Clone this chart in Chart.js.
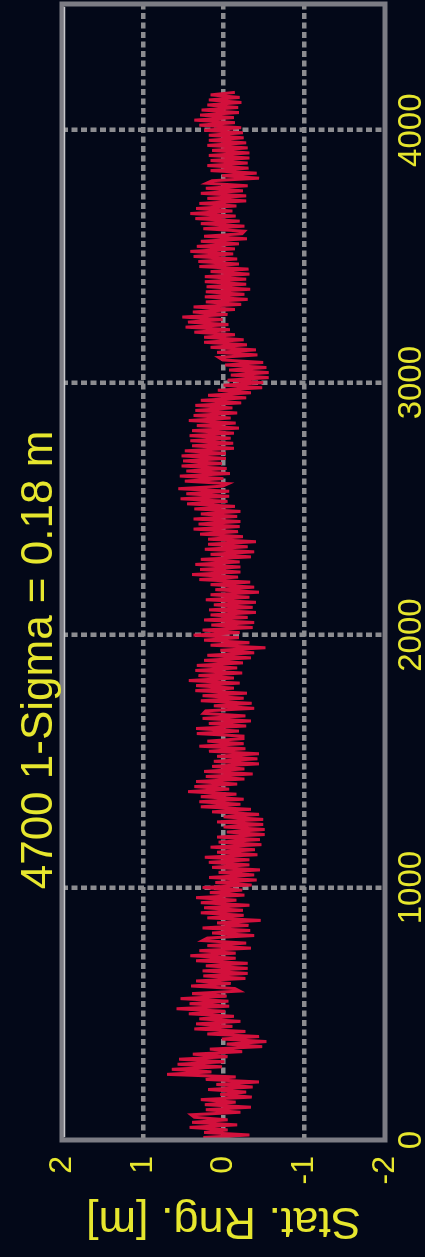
<!DOCTYPE html>
<html lang="en">
<head>
<meta charset="utf-8">
<title>Stat. Rng.</title>
<script src="https://cdn.jsdelivr.net/npm/chart.js"></script>
<style>
  html, body { margin: 0; padding: 0; background: #030818; overflow: hidden; }
  body { width: 425px; height: 1257px; position: relative; }
  /* the plot is laid out landscape and turned a quarter turn */
  #wrap { position: absolute; left: 0; top: 1257px; width: 1257px; height: 425px;
          transform-origin: 0 0; transform: rotate(-90deg); }
</style>
</head>
<body>
<div id="wrap"><canvas id="chart" width="1257" height="425"></canvas></div>
<script>
const titleText = '4700 1-Sigma = 0.18 m';
const axisTitle = 'Stat. Rng. [m]';
const epochTicks = [0, 1000, 2000, 3000, 4000];
const epochMax = 4500;
const rangeMin = -2;
const rangeMax = 2;
const epochStep = 10;

// station range residuals [m], one row per 100 epochs
const rangeResiduals = [
  -0.26, 0.25, -0.32, 0.24, -0.05, 0.42, -0.17, 0.39, -0.05, 0.36,
  0.40, -0.21, 0.22, -0.34, 0.23, -0.15, 0.28, -0.35, 0.04, -0.28,
  0.19, -0.36, 0.09, -0.44, 0.22, -0.15, 0.70, 0.15, 0.64, 0.02,
  0.57, -0.01, 0.55, -0.05, 0.38, -0.23, 0.17, -0.48, -0.04, -0.53,
  0.02, -0.44, 0.20, -0.27, 0.36, -0.11, 0.34, -0.21, 0.30, -0.13,
  0.43, -0.02, 0.58, -0.07, 0.42, -0.06, 0.53, -0.04, 0.39, -0.20,
  -0.14, 0.40, -0.09, 0.34, -0.27, 0.25, -0.30, 0.26, -0.30, 0.22,
  -0.30, 0.34, -0.15, 0.41, -0.15, 0.30, -0.34, 0.20, -0.28, 0.26,
  0.20, -0.38, 0.14, -0.33, 0.26, -0.31, 0.08, -0.46, 0.20, -0.25,
  0.28, -0.24, 0.24, -0.32, 0.28, -0.16, 0.34, -0.26, 0.17, -0.23,
  0.26, -0.35, 0.10, -0.41, 0.18, -0.38, 0.06, -0.45, 0.14, -0.32,
  0.18, -0.32, 0.23, -0.42, 0.08, -0.39, 0.16, -0.47, 0.06, -0.45,
  0.08, -0.51, -0.04, -0.51, 0.00, -0.49, 0.08, -0.49, 0.00, -0.44,
  0.14, -0.34, 0.28, -0.21, 0.30, -0.25, 0.28, -0.16, 0.44, -0.07,
  0.36, -0.17, 0.34, -0.26, 0.22, -0.36, 0.24, -0.26, 0.14, -0.44,
  0.12, -0.42, 0.08, -0.44, 0.18, -0.27, 0.30, -0.25, 0.20, -0.24,
  -0.24, 0.33, -0.19, 0.34, -0.28, 0.18, -0.34, 0.26, -0.27, 0.25,
  0.22, -0.38, 0.12, -0.35, 0.28, -0.25, 0.26, -0.29, 0.35, -0.13,
  0.34, -0.20, 0.43, -0.13, 0.31, -0.23, 0.35, -0.17, 0.33, -0.24,
  0.24, -0.34, 0.20, -0.38, 0.04, -0.52, 0.16, -0.32, 0.24, -0.19,
  0.37, -0.20, 0.26, -0.36, 0.15, -0.38, 0.24, -0.30, 0.16, -0.40,
  0.18, -0.36, 0.12, -0.40, 0.22, -0.32, 0.16, -0.44, 0.10, -0.38,
  0.16, -0.33, 0.30, -0.18, 0.39, -0.21, 0.29, -0.21, 0.35, -0.20,
  0.28, -0.34, 0.16, -0.38, 0.23, -0.30, 0.19, -0.40, 0.19, -0.24,
  0.29, -0.18, 0.37, -0.20, 0.31, -0.21, 0.37, -0.17, 0.28, -0.21,
  0.36, -0.14, 0.45, -0.05, 0.53, -0.07, 0.46, -0.07, 0.56, 0.01,
  -0.06, 0.48, 0.00, 0.54, -0.08, 0.46, -0.04, 0.52, 0.02, 0.50,
  -0.03, 0.52, -0.03, 0.48, -0.13, 0.39, -0.12, 0.41, -0.09, 0.42,
  -0.13, 0.39, -0.19, 0.33, -0.15, 0.43, -0.09, 0.37, -0.17, 0.35,
  -0.11, 0.35, -0.22, 0.28, -0.28, 0.19, -0.34, 0.07, -0.48, 0.00,
  -0.49, -0.05, -0.56, -0.09, -0.56, -0.07, -0.53, -0.02, -0.49, 0.01,
  0.06, -0.42, 0.08, -0.40, 0.16, -0.29, 0.24, -0.25, 0.24, -0.14,
  0.36, -0.08, 0.47, -0.06, 0.44, 0.01, 0.51, -0.05, 0.38, -0.14,
  0.37, -0.22, 0.22, -0.30, 0.23, -0.26, 0.22, -0.33, 0.21, -0.28,
  0.23, -0.28, 0.23, -0.32, 0.16, -0.31, 0.30, -0.19, 0.31, -0.17,
  0.37, -0.12, 0.41, -0.14, 0.33, -0.19, 0.28, -0.29, 0.24, -0.23,
  -0.26, 0.25, -0.26, 0.28, -0.20, 0.35, -0.15, 0.41, -0.11, 0.34,
  -0.16, 0.30, -0.28, 0.20, -0.28, 0.28, -0.24, 0.22, -0.30, 0.21,
  0.14, -0.44, 0.02, -0.41, 0.16, -0.31, 0.20, -0.30, 0.16, -0.32,
  0.18, -0.32, 0.14, -0.30, 0.20, -0.28, 0.18, -0.25, 0.18, -0.24,
  0.24, -0.22, 0.30, -0.14, 0.36, -0.13, 0.29, -0.19, 0.27, -0.18,
  0.20, -0.22, 0.18, -0.20, 0.16, -0.14
];

const BG = '#030818';
const YELLOW = '#e6e62e';
const GRID = '#8c8c90';
const FRAME = '#7c7c84';
const FONT = "'Liberation Sans', Arial, sans-serif";

const points = rangeResiduals.map((v, i) => ({ x: i * epochStep, y: v }));

const backdrop = {
  id: 'backdrop',
  beforeDraw(chart) {
    const ctx = chart.ctx;
    ctx.save();
    ctx.fillStyle = BG;
    ctx.fillRect(0, 0, chart.width, chart.height);
    ctx.restore();
  }
};

// solid box round the plot area, with a pale inner edge on top
const frame = {
  id: 'frame',
  afterDatasetsDraw(chart) {
    const { ctx, chartArea: a } = chart;
    ctx.save();
    ctx.strokeStyle = FRAME;
    ctx.lineWidth = 5;
    ctx.strokeRect(a.left, a.top, a.right - a.left, a.bottom - a.top);
    ctx.strokeStyle = '#c8c8cc';
    ctx.lineWidth = 1.5;
    ctx.beginPath();
    ctx.moveTo(a.left + 3, a.top + 2.5);
    ctx.lineTo(a.right - 3, a.top + 2.5);
    ctx.stroke();
    ctx.restore();
  }
};

const heading = {
  id: 'heading',
  afterDraw(chart) {
    const ctx = chart.ctx;
    ctx.save();
    ctx.fillStyle = YELLOW;
    ctx.font = '44px ' + FONT;
    ctx.textAlign = 'center';
    ctx.textBaseline = 'middle';
    ctx.fillText(titleText, 597, 40);
    ctx.restore();
  }
};

const dotted = (skip) => ({
  color: (c) => (skip.includes(c.tick && c.tick.value) ? 'rgba(0,0,0,0)' : GRID),
  lineWidth: 4.5,
  drawTicks: false
});

new Chart(document.getElementById('chart'), {
  type: 'line',
  data: {
    datasets: [{
      data: points,
      borderColor: '#d3103c',
      borderWidth: 3,
      pointRadius: 0,
      tension: 0
    }]
  },
  options: {
    responsive: false,
    animation: false,
    events: [],
    layout: { padding: { top: 62, right: 4, left: 0, bottom: 0 } },
    plugins: { legend: { display: false }, tooltip: { enabled: false }, title: { display: false } },
    scales: {
      x: {
        type: 'linear',
        min: 0,
        max: epochMax,
        afterBuildTicks: (s) => { s.ticks = epochTicks.map(v => ({ value: v })); },
        afterFit: (s) => { s.height = 40; },
        border: { display: false, dash: [6, 3.5] },
        grid: dotted([0, epochMax]),
        ticks: {
          color: YELLOW, padding: 7, maxRotation: 0,
          font: { size: 33, family: FONT },
          callback: (v) => String(v)
        }
      },
      y: {
        min: rangeMin,
        max: rangeMax,
        afterFit: (s) => { s.width = 117; },
        border: { display: false, dash: [6, 3.5] },
        grid: dotted([rangeMin, rangeMax]),
        ticks: {
          color: YELLOW, stepSize: 1, padding: 16,
          font: { size: 32, family: FONT },
          callback: (v) => String(v)
        },
        title: {
          display: true,
          text: axisTitle,
          color: YELLOW,
          font: { size: 45, family: FONT },
          padding: { top: 10, bottom: 0 }
        }
      }
    }
  },
  plugins: [backdrop, frame, heading]
});
</script>
</body>
</html>
